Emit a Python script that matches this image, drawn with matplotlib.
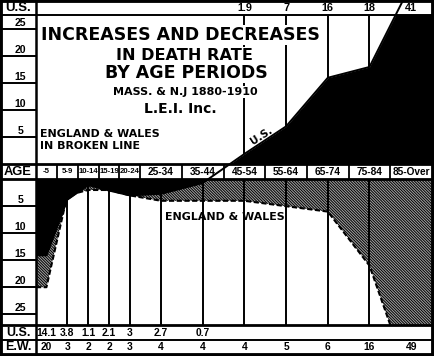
import numpy as np
import matplotlib
matplotlib.use("Agg")
import matplotlib.pyplot as plt
from matplotlib.patches import Rectangle
from matplotlib.lines import Line2D

# age groups and their width in years (5-year groups get half a column)
ages = ["-5", "5-9", "10-14", "15-19", "20-24", "25-34", "35-44",
        "45-54", "55-64", "65-74", "75-84", "85-Over"]
bin_years = [5, 5, 5, 5, 5, 10, 10, 10, 10, 10, 10, 10]

# Mass. & N.J. 1880-1910 (U.S.) and England & Wales, change in death rate
us_decrease = [14.1, 3.8, 1.1, 2.1, 3, 2.7, 0.7]      # -5 .. 35-44
us_increase = [1.9, 7, 16, 18, 41]                     # 45-54 .. 85-Over
ew_decrease = [20, 3, 2, 2, 3, 4, 4, 4, 5, 6, 16, 49]

plt.rcParams["hatch.linewidth"] = 0.7
NUM = dict(family=["Liberation Sans", "DejaVu Sans"], fontweight="bold")
HEADF = dict(family="DejaVu Sans", fontweight="bold")

# a y scale with a gap around zero, for the AGE row between the two panels
GAP = 1.39
HEAD = 27.6          # bottom of the header row
LOW0 = -1e-6         # just under zero -> top of lower panel
YTOP, YBOT = 30.4, -27.0


def fwd(v):
    v = np.asarray(v, dtype=float)
    return np.where(v >= 0, v + GAP, v - GAP)


def inv(t):
    t = np.asarray(t, dtype=float)
    return np.where(t >= GAP, t - GAP, np.where(t <= -GAP, t + GAP, 0.0))


edges = np.r_[0, np.cumsum(bin_years)] / 10.0
centers = (edges[:-1] + edges[1:]) / 2
us = np.r_[-np.array(us_decrease), us_increase]
ew = -np.array(ew_decrease, dtype=float)
# first group drawn flat from the left edge, open-ended last group at right edge
xs = np.r_[edges[0], centers[:-1], edges[-1]]
us_y = np.r_[us[0], us]
ew_y = np.r_[ew[0], ew]

W, H = 434, 356
fig = plt.figure(figsize=(W / 100, H / 100), dpi=100)


def box(x0, y0, x1, y1):
    return [x0 / W, 1 - y1 / H, (x1 - x0) / W, (y1 - y0) / H]


ax = fig.add_axes(box(36, 0, 432, 325))
ax.set_yscale("function", functions=(fwd, inv))
ax.set_xlim(edges[0], edges[-1])
ax.set_ylim(YBOT, YTOP)
ax.axis("off")

axl = fig.add_axes(box(0, 0, 36, 325), sharey=ax)
axl.set_xlim(0, 1)
axl.axis("off")

axb = fig.add_axes(box(36, 325, 432, 355), sharex=ax)
axb.set_ylim(0, 2)
axb.axis("off")

# areas
ax.fill_between(xs, ew_y, 0, facecolor="#a4a4a4", edgecolor="black",
                hatch="\\" * 12, linewidth=0, zorder=1)
ax.fill_between(xs, us_y, 0, color="black", linewidth=0, zorder=2)
ax.plot(xs, ew_y, color="black", lw=1.5, ls=(0, (2.5, 1.2)), zorder=3)

# drop lines
ax.vlines(centers[1:11], YBOT, LOW0, color="black", lw=1.4, zorder=3)
ax.vlines(centers[7:11], us_increase[:4], HEAD, color="black", lw=1.4, zorder=3)

# header row and AGE row
ax.fill_between([edges[0], edges[-1]], LOW0, 0, color="white", lw=0, zorder=5)
ax.fill_between([edges[0], edges[-1]], HEAD, YTOP, color="white", lw=0, zorder=5)
for a in (ax, axl):
    a.axhline(0, color="black", lw=2, zorder=6)
    a.axhline(LOW0, color="black", lw=2, zorder=6)
    a.axhline(HEAD, color="black", lw=1.4, zorder=6)
ax.vlines(edges[1:-1], LOW0, 0, color="black", lw=1.3, zorder=6)

ax.plot(xs, us_y, color="black", lw=1.4, zorder=7)

for c, v in zip(centers[7:], us_increase):
    ax.annotate(f"{v:g}", (c, HEAD), xytext=(0, 5), textcoords="offset points",
                ha="center", va="center", fontsize=7.8, zorder=8, **NUM)

for c, lab, yrs in zip(centers, ages, bin_years):
    ax.annotate(lab, (c, 0), xytext=(0, -5.6), textcoords="offset points",
                ha="center", va="center", fontsize=5.6 if yrs == 5 else 7.3,
                zorder=8, **NUM)

# left scale column
for v in [5, 10, 15, 20, 25]:
    axl.hlines([v, -v], 0, 1, color="black", lw=1.4)
    for s in (v, -v):
        axl.annotate(str(v), (0.56, s), xytext=(0, 1), textcoords="offset points",
                     ha="center", va="bottom", fontsize=7.6, **NUM)
axl.annotate("U.S.", (0.5, HEAD), xytext=(0, 5.3), textcoords="offset points",
             ha="center", va="center", fontsize=9.5, **NUM)
axl.annotate("AGE", (0.5, 0), xytext=(0, -5.6), textcoords="offset points",
             ha="center", va="center", fontsize=9.3, **NUM)

# bottom rows
for c, v in zip(centers, us_decrease):
    axb.text(c, 1.5, f"{v:g}", ha="center", va="center", fontsize=7.4, **NUM)
for c, v in zip(centers, ew_decrease):
    axb.text(c, 0.5, f"{v:g}", ha="center", va="center", fontsize=7.4, **NUM)
yt = axb.get_yaxis_transform()
axb.plot([-36 / 396, 1], [2, 2], color="black", lw=2, transform=yt, clip_on=False)
axb.plot([-36 / 396, 1], [1, 1], color="black", lw=1.4, transform=yt, clip_on=False)
axb.text(-18 / 396, 1.5, "U.S.", ha="center", va="center", fontsize=9,
         transform=yt, **NUM)
axb.text(-18 / 396, 0.5, "E.W.", ha="center", va="center", fontsize=9,
         transform=yt, **NUM)

# titles
wb = dict(facecolor="white", edgecolor="none", pad=0.6)
ax.text(0.364, 0.877, "INCREASES AND DECREASES", transform=ax.transAxes,
        ha="center", va="baseline", fontsize=12.5, bbox=wb, zorder=8, **HEADF)
ax.text(0.376, 0.815, "IN DEATH RATE", transform=ax.transAxes,
        ha="center", va="baseline", fontsize=11.6, bbox=wb, zorder=8, **HEADF)
ax.text(0.379, 0.760, "BY AGE PERIODS", transform=ax.transAxes,
        ha="center", va="baseline", fontsize=12.5, bbox=wb, zorder=8, **HEADF)
ax.text(0.376, 0.708, "MASS. & N.J 1880-1910", transform=ax.transAxes,
        ha="center", va="baseline", fontsize=8, bbox=wb, zorder=8, **HEADF)
ax.text(0.364, 0.652, "L.E.I. Inc.", transform=ax.transAxes,
        ha="center", va="baseline", fontsize=10, bbox=wb, zorder=8, **HEADF)
ax.text(0.010, 0.578, "ENGLAND & WALES", transform=ax.transAxes,
        ha="left", va="baseline", fontsize=7.9, zorder=8, **HEADF)
ax.text(0.010, 0.5415, "IN BROKEN LINE", transform=ax.transAxes,
        ha="left", va="baseline", fontsize=7.9, zorder=8, **HEADF)
ax.text(0.477, 0.323, "ENGLAND & WALES", transform=ax.transAxes,
        ha="center", va="baseline", fontsize=7.9, zorder=8, **HEADF)
ax.text(5.4, 5.2, "U.S.", ha="center", va="center", rotation=33,
        rotation_mode="anchor", fontsize=7.5, zorder=8, **HEADF)

# frame
fig.add_artist(Line2D([36 / W, 36 / W], [0, 1], transform=fig.transFigure,
                      color="black", lw=1.8))
fig.add_artist(Rectangle((0, 0), 1, 1, transform=fig.transFigure, fill=False,
                         edgecolor="black", lw=4.2))

fig.savefig("out.png", dpi=100)
